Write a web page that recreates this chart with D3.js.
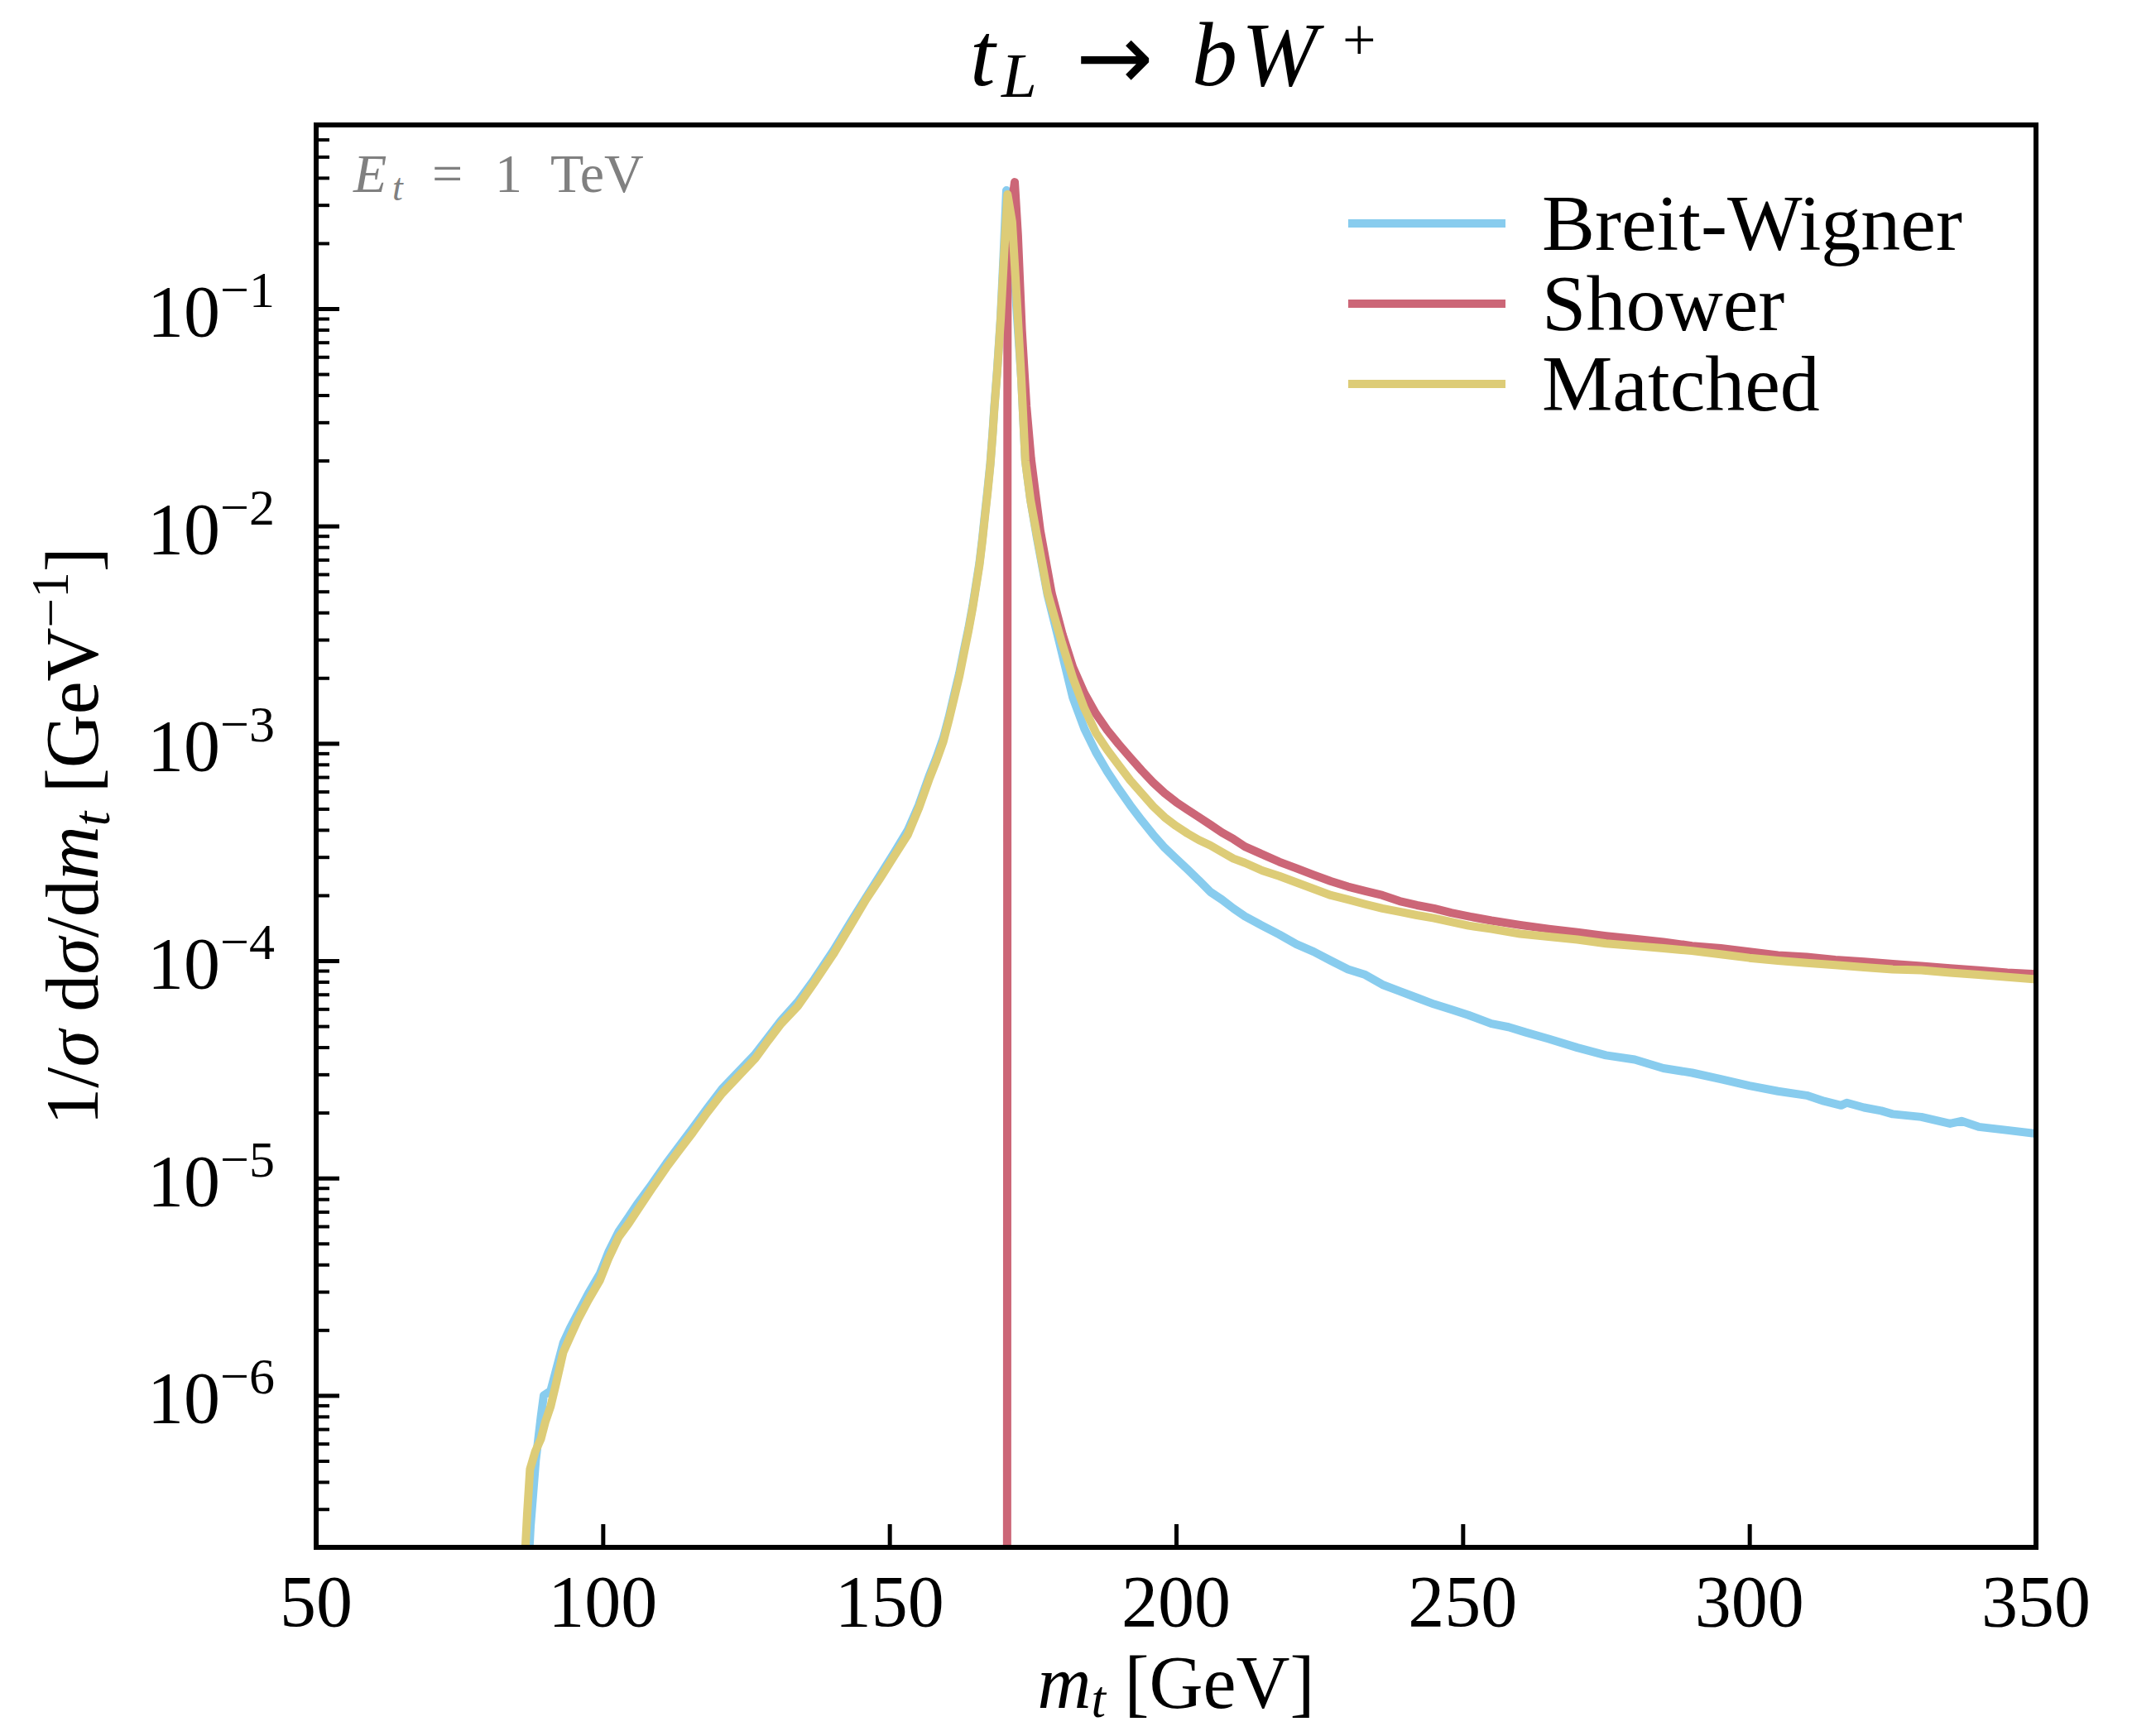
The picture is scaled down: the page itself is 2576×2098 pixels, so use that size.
<!DOCTYPE html>
<html>
<head>
<meta charset="utf-8">
<title>t_L to b W+</title>
<script src="https://cdn.jsdelivr.net/npm/d3@7"></script>
<style>
  body { margin: 0; background: #fff; }
  svg { display: block; font-family: "Liberation Serif", "DejaVu Serif", serif; }
</style>
</head>
<body>
<svg id="chart"></svg>
<script>
// values: m_t in GeV, 1/sigma dsigma/dm_t in GeV^-1
const bwMass = [86.7, 87.4, 88.3, 89.2, 89.7, 90.9, 91.8, 93.1, 94.3, 95.7,
  97.5, 99.5, 101.0, 102.8, 104.5, 106.0, 108.5, 111.1, 113.4, 115.7,
  118.2, 120.8, 123.7, 126.6, 128.8, 131.1, 134.0, 136.9, 140.2, 143.4,
  145.9, 148.4, 150.8, 153.2, 155.1, 157.0, 158.2, 159.4, 160.4, 161.3,
  162.2, 163.0, 163.8, 164.5, 165.1, 165.7, 166.2, 166.6, 167.1, 167.6,
  168.0, 168.3, 168.8, 169.4, 169.9, 170.4,
  171.4, 172.1, 173.0, 173.7, 174.6, 175.7, 177.6, 179.6, 182, 184,
  186, 188, 190, 192, 194, 196, 198, 200, 202, 204,
  206, 208, 210, 212, 215, 218, 221, 224, 227, 230,
  233, 236, 239, 242, 245, 248, 251, 255, 258, 261,
  265, 270, 275, 280, 285, 290, 295, 300, 305, 310,
  313, 316, 317, 320, 323, 325, 330, 335, 337, 340,
  345, 350];
const bwValue = [1.12e-7, 2.51e-7, 5.01e-7, 7.94e-7, 1.00e-6, 1.05e-6, 1.29e-6, 1.74e-6, 2.04e-6, 2.40e-6,
  2.95e-6, 3.63e-6, 4.57e-6, 5.69e-6, 6.61e-6, 7.59e-6, 9.33e-6, 1.17e-5, 1.41e-5, 1.70e-5,
  2.09e-5, 2.57e-5, 3.09e-5, 3.72e-5, 4.42e-5, 5.31e-5, 6.46e-5, 8.22e-5, 1.11e-4, 1.53e-4,
  1.95e-4, 2.48e-4, 3.13e-4, 3.98e-4, 5.19e-4, 7.16e-4, 8.61e-4, 1.06e-3, 1.33e-3, 1.68e-3,
  2.11e-3, 2.69e-3, 3.39e-3, 4.27e-3, 5.37e-3, 6.76e-3, 8.71e-3, 1.10e-2, 1.45e-2, 1.95e-2,
  2.69e-2, 3.55e-2, 5.25e-2, 9.12e-2, 0.174, 0.350,
  0.240, 0.107, 4.79e-2, 2.00e-2, 1.32e-2, 8.91e-3, 4.79e-3, 2.95e-3, 1.62e-3, 1.17e-3,
  9.12e-4, 7.41e-4, 6.17e-4, 5.19e-4, 4.42e-4, 3.80e-4, 3.31e-4, 2.95e-4, 2.63e-4, 2.34e-4,
  2.07e-4, 1.91e-4, 1.74e-4, 1.60e-4, 1.45e-4, 1.32e-4, 1.19e-4, 1.10e-4, 1.00e-4, 9.12e-5,
  8.61e-5, 7.76e-5, 7.24e-5, 6.76e-5, 6.31e-5, 5.96e-5, 5.62e-5, 5.13e-5, 4.95e-5, 4.68e-5,
  4.37e-5, 3.98e-5, 3.67e-5, 3.51e-5, 3.20e-5, 3.05e-5, 2.85e-5, 2.66e-5, 2.51e-5, 2.40e-5,
  2.26e-5, 2.16e-5, 2.22e-5, 2.11e-5, 2.04e-5, 1.97e-5, 1.91e-5, 1.78e-5, 1.83e-5, 1.72e-5,
  1.66e-5, 1.60e-5];

// shower is empty below the peak: first point sits far under the axis
const showerMass = [170.5, 170.6, 171.85, 172.4, 173.1, 173.9, 174.7, 176.3, 178.3, 180.2,
  182, 184, 186, 188, 190, 192, 194, 196, 198, 200,
  202, 204, 206, 208, 210, 212, 215, 218, 221, 224,
  227, 230, 233, 236, 239, 242, 245, 248, 251, 255,
  260, 265, 270, 275, 280, 285, 290, 295, 300, 305,
  310, 315, 320, 325, 330, 335, 340, 345, 350];
const showerValue = [1e-9, 0.22, 0.382, 0.219, 7.94e-2, 3.55e-2, 2.04e-2, 9.55e-3, 4.90e-3, 3.16e-3,
  2.24e-3, 1.70e-3, 1.37e-3, 1.15e-3, 9.90e-4, 8.61e-4, 7.50e-4, 6.60e-4, 5.90e-4, 5.37e-4,
  4.95e-4, 4.57e-4, 4.22e-4, 3.89e-4, 3.63e-4, 3.35e-4, 3.09e-4, 2.85e-4, 2.66e-4, 2.48e-4,
  2.32e-4, 2.19e-4, 2.09e-4, 2.00e-4, 1.88e-4, 1.80e-4, 1.74e-4, 1.66e-4, 1.60e-4, 1.53e-4,
  1.46e-4, 1.40e-4, 1.35e-4, 1.30e-4, 1.26e-4, 1.22e-4, 1.17e-4, 1.14e-4, 1.10e-4, 1.06e-4,
  1.04e-4, 1.01e-4, 9.89e-5, 9.66e-5, 9.44e-5, 9.23e-5, 9.02e-5, 8.81e-5, 8.67e-5];

const matchedMass = [86.0, 86.8, 87.3, 88.2, 89.2, 90.0, 90.9, 91.8, 93.1, 94.3,
  95.7, 97.5, 99.5, 101.0, 102.8, 104.5, 106.0, 108.5, 111.1, 113.4,
  115.7, 118.2, 120.8, 123.7, 126.6, 128.8, 131.1, 134.0, 136.9, 140.2,
  143.4, 145.9, 148.4, 150.8, 153.2, 155.1, 157.0, 158.2, 159.4, 160.4,
  161.3, 162.2, 163.0, 163.8, 164.5, 165.1, 165.7, 166.2, 166.6, 167.1,
  167.6, 168.0, 168.3, 168.8, 169.4, 170.0, 170.6,
  171.4, 172.2, 173.0, 173.7, 174.6, 175.7, 177.6, 180, 182, 184,
  186, 188, 190, 192, 194, 196, 198, 200, 202, 204,
  206, 208, 210, 212, 215, 218, 221, 224, 227, 230,
  233, 236, 239, 242, 245, 248, 251, 255, 260, 265,
  270, 275, 280, 285, 290, 295, 300, 305, 310, 315,
  320, 325, 330, 335, 340, 345, 350];
const matchedValue = [1.12e-7, 2.82e-7, 4.57e-7, 5.50e-7, 6.31e-7, 7.59e-7, 8.91e-7, 1.12e-6, 1.58e-6, 1.86e-6,
  2.24e-6, 2.75e-6, 3.39e-6, 4.27e-6, 5.37e-6, 6.17e-6, 7.08e-6, 8.91e-6, 1.12e-5, 1.35e-5,
  1.62e-5, 2.00e-5, 2.45e-5, 2.95e-5, 3.55e-5, 4.27e-5, 5.13e-5, 6.17e-5, 7.94e-5, 1.07e-4,
  1.48e-4, 1.91e-4, 2.40e-4, 3.02e-4, 3.80e-4, 5.01e-4, 6.92e-4, 8.32e-4, 1.02e-3, 1.29e-3,
  1.62e-3, 2.04e-3, 2.60e-3, 3.31e-3, 4.17e-3, 5.25e-3, 6.61e-3, 8.51e-3, 1.07e-2, 1.41e-2,
  1.91e-2, 2.63e-2, 3.47e-2, 5.13e-2, 8.91e-2, 0.178, 0.335,
  0.251, 0.112, 4.79e-2, 2.00e-2, 1.32e-2, 9.12e-3, 4.90e-3, 2.95e-3, 2.00e-3, 1.45e-3,
  1.12e-3, 9.33e-4, 7.94e-4, 6.76e-4, 5.89e-4, 5.13e-4, 4.57e-4, 4.17e-4, 3.85e-4, 3.59e-4,
  3.39e-4, 3.16e-4, 2.95e-4, 2.82e-4, 2.60e-4, 2.45e-4, 2.29e-4, 2.14e-4, 2.00e-4, 1.91e-4,
  1.82e-4, 1.74e-4, 1.68e-4, 1.62e-4, 1.57e-4, 1.51e-4, 1.45e-4, 1.40e-4, 1.33e-4, 1.29e-4,
  1.25e-4, 1.20e-4, 1.17e-4, 1.14e-4, 1.11e-4, 1.07e-4, 1.03e-4, 1.00e-4, 9.77e-5, 9.55e-5,
  9.33e-5, 9.12e-5, 9.05e-5, 8.81e-5, 8.61e-5, 8.41e-5, 8.22e-5];

const seriesNames = ['Breit-Wigner', 'Shower', 'Matched'];
const seriesColors = ['#88CCEE', '#CC6677', '#DDCC77'];
const xTicks = [50, 100, 150, 200, 250, 300, 350];
const yTickExponents = [-6, -5, -4, -3, -2, -1];

class MassSpectrum {

  constructor(_config, _series) {
    this.config = {
      parentElement: _config.parentElement,
      containerWidth: _config.containerWidth || 2576,
      containerHeight: _config.containerHeight || 2098,
      margin: _config.margin || {top: 151, right: 116, bottom: 228, left: 382},
      lineWidth: _config.lineWidth || 10
    };
    this.series = _series;
    this.initVis();
  }

  initVis() {
    let vis = this;

    vis.width = vis.config.containerWidth - vis.config.margin.left - vis.config.margin.right;
    vis.height = vis.config.containerHeight - vis.config.margin.top - vis.config.margin.bottom;

    vis.xScale = d3.scaleLinear()
        .domain([50, 350])
        .range([0, vis.width]);

    vis.yScale = d3.scaleLog()
        .domain([2e-7, 0.7])
        .range([vis.height, 0]);

    vis.svg = d3.select(vis.config.parentElement)
        .attr('width', vis.config.containerWidth)
        .attr('height', vis.config.containerHeight);

    vis.svg.append('rect')
        .attr('width', vis.config.containerWidth)
        .attr('height', vis.config.containerHeight)
        .attr('fill', '#fff');

    vis.chart = vis.svg.append('g')
        .attr('transform', `translate(${vis.config.margin.left},${vis.config.margin.top})`);

    vis.chart.append('clipPath')
        .attr('id', 'plot-clip')
      .append('rect')
        .attr('width', vis.width)
        .attr('height', vis.height);

    vis.linesG = vis.chart.append('g').attr('clip-path', 'url(#plot-clip)');

    // ticks point inward, labels are drawn by hand
    vis.yMajor = yTickExponents.map(e => Math.pow(10, e));
    vis.yMinor = vis.yScale.ticks().filter(d => {
      const l = Math.log10(d);
      return Math.abs(l - Math.round(l)) > 1e-6;
    });

    vis.xAxis = d3.axisBottom(vis.xScale).tickValues(xTicks).tickSize(-28).tickFormat('');
    vis.yAxisMajor = d3.axisLeft(vis.yScale).tickValues(vis.yMajor).tickSize(-28).tickFormat('');
    vis.yAxisMinor = d3.axisLeft(vis.yScale).tickValues(vis.yMinor).tickSize(-16).tickFormat('');

    vis.xAxisG = vis.chart.append('g')
        .attr('class', 'axis x-axis')
        .attr('transform', `translate(0,${vis.height})`);
    vis.yAxisMajorG = vis.chart.append('g').attr('class', 'axis y-axis');
    vis.yAxisMinorG = vis.chart.append('g').attr('class', 'axis y-axis-minor');

    vis.frame = vis.chart.append('rect')
        .attr('width', vis.width)
        .attr('height', vis.height)
        .attr('fill', 'none')
        .attr('stroke', '#000')
        .attr('stroke-width', 6);

    vis.line = d3.line()
        .x(d => vis.xScale(d.mass))
        .y(d => vis.yScale(d.value));
  }

  renderVis() {
    let vis = this;

    vis.linesG.selectAll('.curve')
      .data(vis.series)
      .join('path')
        .attr('class', 'curve')
        .attr('d', s => vis.line(s.points))
        .attr('fill', 'none')
        .attr('stroke', s => s.color)
        .attr('stroke-width', vis.config.lineWidth)
        .attr('stroke-linejoin', 'round');

    vis.xAxisG.call(vis.xAxis).call(g => g.select('.domain').remove());
    vis.yAxisMajorG.call(vis.yAxisMajor).call(g => g.select('.domain').remove());
    vis.yAxisMinorG.call(vis.yAxisMinor).call(g => g.select('.domain').remove());
    vis.xAxisG.selectAll('line').attr('stroke-width', 5);
    vis.yAxisMajorG.selectAll('line').attr('stroke-width', 5);
    vis.yAxisMinorG.selectAll('line').attr('stroke-width', 4);
    vis.frame.raise();

    // x tick labels
    vis.chart.selectAll('.x-label')
      .data(xTicks)
      .join('text')
        .attr('class', 'x-label')
        .attr('x', d => vis.xScale(d))
        .attr('y', vis.height + 95)
        .attr('text-anchor', 'middle')
        .attr('font-size', 88)
        .text(d => d);

    // y tick labels as 10^n
    const yLabels = vis.chart.selectAll('.y-label')
      .data(yTickExponents)
      .join('text')
        .attr('class', 'y-label')
        .attr('x', -204)
        .attr('y', d => vis.yScale(Math.pow(10, d)) + 33)
        .attr('font-size', 88);
    yLabels.append('tspan').text('10');
    yLabels.append('tspan')
        .attr('dy', -35)
        .attr('font-size', 62)
        .text(d => '\u2212' + Math.abs(d));

    // axis titles
    const xTitle = vis.svg.append('text')
        .attr('x', vis.config.margin.left + vis.width / 2)
        .attr('y', 2064)
        .attr('text-anchor', 'middle')
        .attr('font-size', 90);
    xTitle.append('tspan').attr('font-style', 'italic').text('m');
    xTitle.append('tspan').attr('font-style', 'italic').attr('font-size', 63).attr('dy', 11).text('t');
    xTitle.append('tspan').attr('dy', -11).text(' [GeV]');

    const yTitle = vis.svg.append('text')
        .attr('transform', `translate(118,${vis.config.margin.top + vis.height / 2}) rotate(-90)`)
        .attr('text-anchor', 'middle')
        .attr('font-size', 90);
    yTitle.append('tspan').text('1/');
    yTitle.append('tspan').attr('font-style', 'italic').text('\u03c3');
    yTitle.append('tspan').text(' d');
    yTitle.append('tspan').attr('font-style', 'italic').text('\u03c3');
    yTitle.append('tspan').text('/d');
    yTitle.append('tspan').attr('font-style', 'italic').text('m');
    yTitle.append('tspan').attr('font-style', 'italic').attr('font-size', 63).attr('dy', 14).text('t');
    yTitle.append('tspan').attr('dy', -14).text(' [GeV');
    yTitle.append('tspan').attr('font-size', 63).attr('dy', -36).text('\u22121');
    yTitle.append('tspan').attr('dy', 36).text(']');

    // title t_L -> b W^+
    const title = vis.svg.append('text').attr('font-size', 110);
    title.append('tspan').attr('x', 1172).attr('y', 103).attr('font-style', 'italic').text('t');
    title.append('tspan').attr('x', 1210).attr('y', 117).attr('font-style', 'italic').attr('font-size', 77).text('L');
    title.append('tspan').attr('x', 1300).attr('y', 108)
        .attr('font-family', '"DejaVu Sans", sans-serif').attr('font-size', 112).text('\u2192');
    title.append('tspan').attr('x', 1440).attr('y', 103).attr('font-style', 'italic').text('b');
    title.append('tspan').attr('x', 1500).attr('y', 103).attr('font-style', 'italic').attr('textLength', 108).text('W');
    title.append('tspan').attr('x', 1622).attr('y', 72).attr('font-size', 72).text('+');

    // energy note
    const note = vis.svg.append('text').attr('fill', '#808080').attr('font-size', 66);
    note.append('tspan').attr('x', 427).attr('y', 232).attr('font-style', 'italic').text('E');
    note.append('tspan').attr('x', 474).attr('y', 242).attr('font-style', 'italic').attr('font-size', 46).text('t');
    note.append('tspan').attr('x', 522).attr('y', 232).attr('textLength', 52).text('=');
    note.append('tspan').attr('x', 598).attr('y', 232).text('1');
    note.append('tspan').attr('x', 665).attr('y', 232).text('TeV');

    // legend
    const legend = vis.svg.append('g').attr('class', 'legend');
    const items = legend.selectAll('.legend-item')
      .data(vis.series)
      .join('g')
        .attr('class', 'legend-item')
        .attr('transform', (d, i) => `translate(0,${i * 97})`);
    items.append('line')
        .attr('x1', 1629).attr('x2', 1819)
        .attr('y1', 270).attr('y2', 270)
        .attr('stroke', d => d.color)
        .attr('stroke-width', vis.config.lineWidth);
    items.append('text')
        .attr('x', 1863)
        .attr('y', 302)
        .attr('font-size', 96)
        .text(d => d.name);
  }
}

const massSets = [bwMass, showerMass, matchedMass];
const valueSets = [bwValue, showerValue, matchedValue];
const series = seriesNames.map((name, i) => ({
  name: name,
  color: seriesColors[i],
  points: massSets[i].map((m, j) => ({mass: m, value: valueSets[i][j]}))
}));

const plot = new MassSpectrum({parentElement: '#chart'}, series);
plot.renderVis();
</script>
</body>
</html>
